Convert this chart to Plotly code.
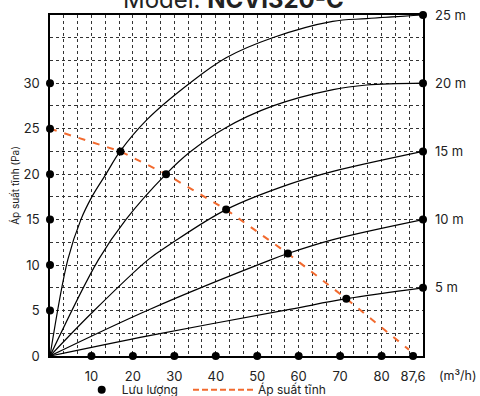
import plotly.graph_objects as go

# ---- data ------------------------------------------------------------------
flow_ticks = [10, 20, 30, 40, 50, 60, 70, 80, 87.6]
flow_tick_text = ["10", "20", "30", "40", "50", "60", "70", "80", "87,6"]
pressure_ticks = [5, 10, 15, 20, 25, 30]

duct_labels = ["5 m", "10 m", "15 m", "20 m", "25 m"]
duct_end_pressure = [7.5, 15, 22.5, 30, 37.5]

c5_flow = [0, 24, 57.8, 71.5, 90]
c5_pressure = [0, 2.25, 5.12, 6.3, 7.5]
c10_flow = [0, 24, 53.4, 57.4, 68.3, 90]
c10_pressure = [0, 5.12, 10.6, 11.27, 12.8, 15]
c15_flow = [0, 10, 23.7, 28.9, 42.5, 57.8, 68.3, 90]
c15_pressure = [0, 4.7, 10.6, 12.26, 16.1, 18.9, 20.3, 22.5]
c20_flow = [0, 11.7, 18.3, 28, 33.7, 42, 53.8, 68.3, 76.4, 90]
c20_pressure = [0, 10.6, 15, 20, 22.4, 25, 27.5, 29.3, 29.8, 30]
c25_flow = [0, 4.3, 7.45, 10.1, 13.5, 16.9, 23.4, 33.7, 42.5, 53.7, 68.2, 76.4, 90]
c25_pressure = [0, 10.6, 15, 17.5, 20, 22.5, 26, 30, 32.8, 35, 36.8, 37.1, 37.5]

op_flow = [17, 28, 42.5, 57.4, 71.5]
op_pressure = [22.5, 20, 16.1, 11.27, 6.3]

static_flow = [0, 17, 28, 42.5, 57.4, 71.5, 86.6]
static_pressure = [25, 22.5, 20, 16.1, 11.27, 6.3, 0.7]

FONT = "Inter, Open Sans, sans-serif"
TEXT = "#222222"
ORANGE = "#f26a2e"
X_MAX, Y_MAX = 90, 37.5

fig = go.Figure()

curves = [
    (c5_flow, c5_pressure), (c10_flow, c10_pressure), (c15_flow, c15_pressure),
    (c20_flow, c20_pressure), (c25_flow, c25_pressure),
]
for xs, ys in curves:
    fig.add_trace(go.Scatter(
        x=xs, y=ys, mode="lines", line=dict(color="black", width=1.2, shape="spline", smoothing=1.0),
        hoverinfo="skip", showlegend=False,
    ))

fig.add_trace(go.Scatter(
    x=static_flow, y=static_pressure, mode="lines",
    line=dict(color=ORANGE, width=2, dash="7px,8px"),
    hoverinfo="skip", showlegend=False,
))

# dots on the axes and on the curve intersections
dot = dict(color="black", size=8)
fig.add_trace(go.Scatter(
    x=[0] * len(pressure_ticks), y=pressure_ticks, mode="markers", marker=dot,
    cliponaxis=False, showlegend=False, hoverinfo="skip",
))
fig.add_trace(go.Scatter(
    x=flow_ticks, y=[0] * len(flow_ticks), mode="markers", marker=dot,
    cliponaxis=False, showlegend=False, hoverinfo="skip",
))
fig.add_trace(go.Scatter(
    x=[X_MAX] * len(duct_end_pressure), y=duct_end_pressure, mode="markers", marker=dot,
    cliponaxis=False, showlegend=False, hoverinfo="skip",
))
fig.add_trace(go.Scatter(
    x=op_flow, y=op_pressure, mode="markers", marker=dot, name="Lưu lượng",
    cliponaxis=False, hoverinfo="skip", legend="legend",
))
# legend entry for the dashed line
fig.add_trace(go.Scatter(
    x=[None], y=[None], mode="lines", name="Áp suất tĩnh", legend="legend2",
    line=dict(color=ORANGE, width=2, dash="6px,3px"),
))
# carrier for the tick-label axes
fig.add_trace(go.Scatter(x=[None], y=[None], xaxis="x2", yaxis="y2", showlegend=False))

grid = dict(showgrid=True, gridcolor="#333333", gridwidth=1, griddash="dot", zeroline=False)
axis_line = dict(showline=True, linecolor="black", linewidth=1.5, mirror=True)

y_grid = [i * 2.5 for i in range(16)]
y_text = [("%g" % v) if v in pressure_ticks or v == 0 else "" for v in y_grid]

legend_style = dict(orientation="h", xanchor="left", y=-0.099, yanchor="middle",
                    font=dict(size=12, color=TEXT), bgcolor="rgba(0,0,0,0)")

fig.update_layout(
    width=480, height=396,
    margin=dict(l=50, r=57, t=15, b=40, autoexpand=False),
    paper_bgcolor="white", plot_bgcolor="white",
    font=dict(family=FONT, color=TEXT, size=13),
    xaxis=dict(range=[0, X_MAX], tickmode="linear", tick0=0, dtick=10 / 3, automargin=False,
               showticklabels=False, ticks="", **grid, **axis_line),
    xaxis2=dict(range=[0, X_MAX], overlaying="x", side="bottom", anchor="y", automargin=False,
                tickvals=flow_ticks, ticktext=flow_tick_text, showgrid=False,
                zeroline=False, ticks="", ticklabelstandoff=11,
                tickfont=dict(size=13, color=TEXT)),
    yaxis=dict(range=[0, Y_MAX], tickvals=y_grid, ticktext=y_text, ticks="", automargin=False,
               ticklabelstandoff=6, tickfont=dict(size=13, color=TEXT),
               title=dict(text="Áp suất tĩnh (Pa)", font=dict(size=10, color=TEXT), standoff=2),
               **grid, **axis_line),
    yaxis2=dict(range=[0, Y_MAX], overlaying="y", side="right", anchor="x", automargin=False,
                tickvals=duct_end_pressure, ticktext=duct_labels, showgrid=False,
                zeroline=False, ticks="", ticklabelstandoff=11,
                tickfont=dict(size=13, color=TEXT)),
    legend=dict(x=0.085, itemwidth=30, **legend_style),
    legend2=dict(x=0.37, itemwidth=60, **legend_style),
    annotations=[
        dict(text="Model: <b>NCVI320-C</b>", xref="paper", yref="paper", x=0.492, y=1,
             xanchor="center", yanchor="bottom", yshift=-1, showarrow=False,
             font=dict(size=24, color=TEXT, family=FONT)),
        dict(text="(m³/h)", xref="paper", yref="paper", x=1, y=0,
             xanchor="left", yanchor="top", xshift=14, yshift=-10, showarrow=False,
             font=dict(size=12.5, color=TEXT)),
    ],
)

fig.write_html("out.html", config={"displayModeBar": False},
               post_script="document.body.style.margin = '0';")
